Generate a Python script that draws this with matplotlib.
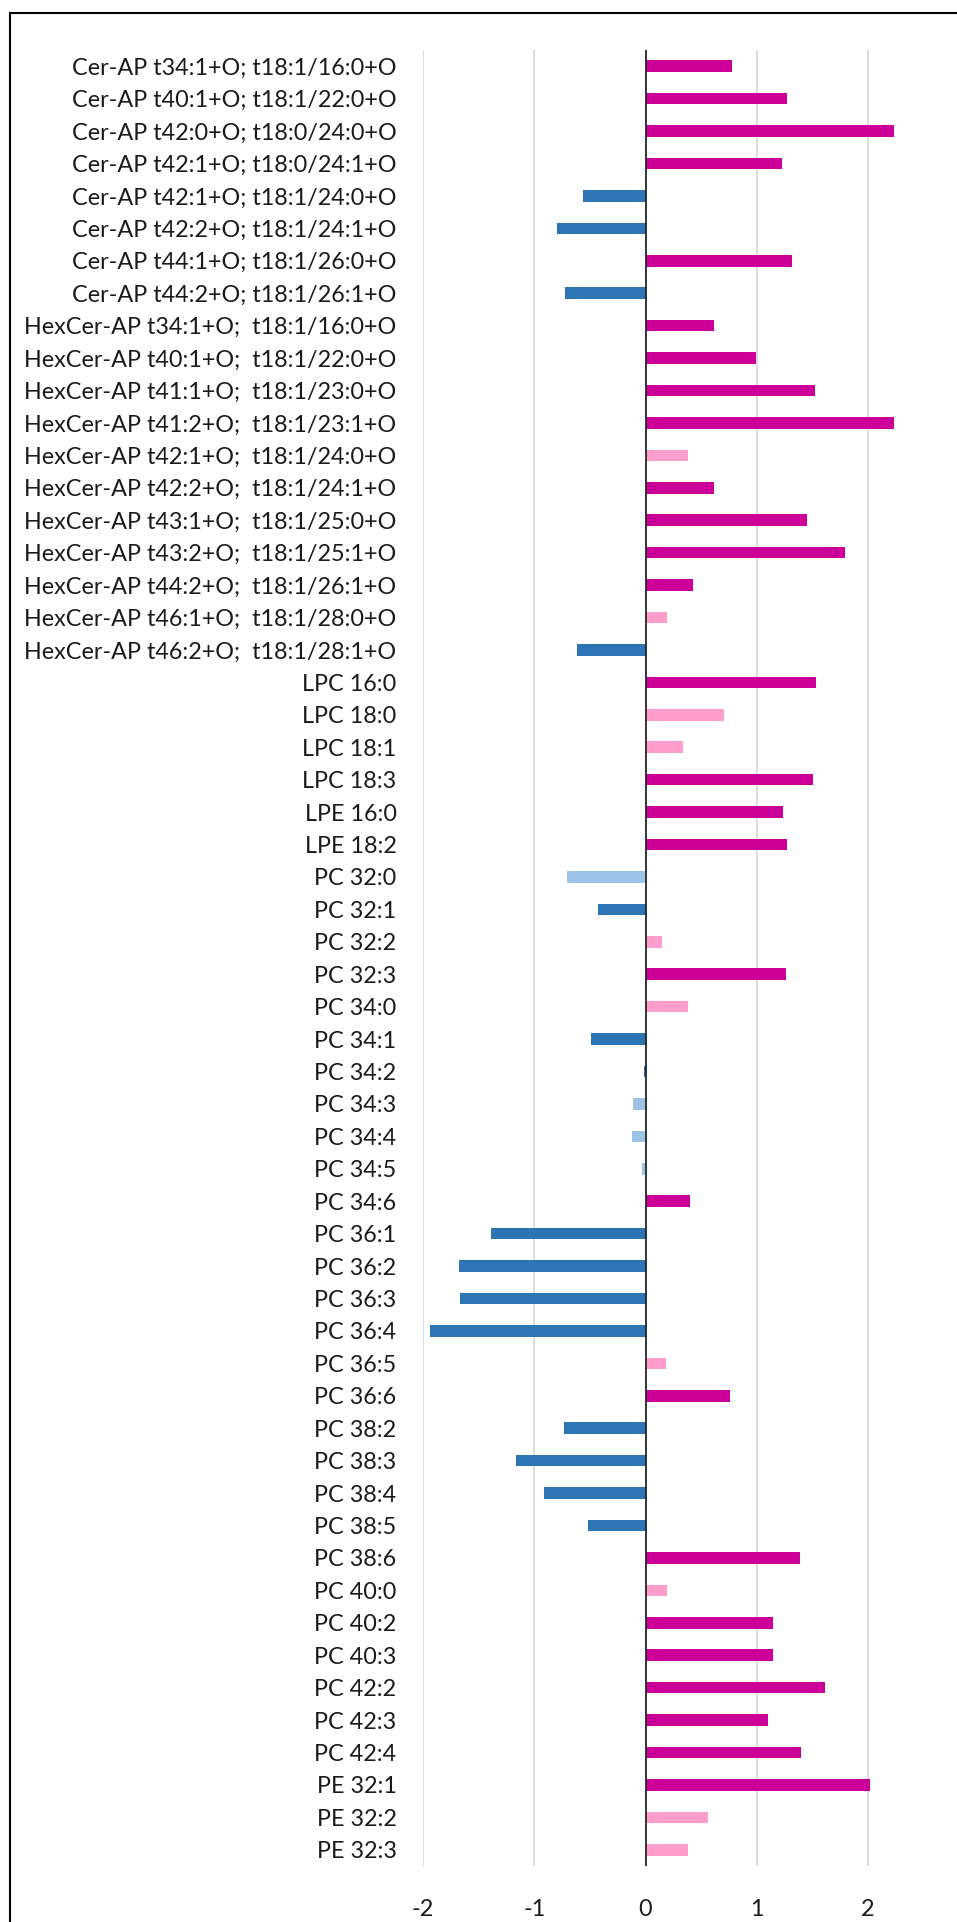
import numpy as np
import matplotlib.pyplot as plt
from matplotlib.lines import Line2D

plt.rcParams['font.family'] = ['Lato', 'DejaVu Sans']

lipids = ['Cer-AP t34:1+O; t18:1/16:0+O',
          'Cer-AP t40:1+O; t18:1/22:0+O',
          'Cer-AP t42:0+O; t18:0/24:0+O',
          'Cer-AP t42:1+O; t18:0/24:1+O',
          'Cer-AP t42:1+O; t18:1/24:0+O',
          'Cer-AP t42:2+O; t18:1/24:1+O',
          'Cer-AP t44:1+O; t18:1/26:0+O',
          'Cer-AP t44:2+O; t18:1/26:1+O',
          'HexCer-AP t34:1+O;  t18:1/16:0+O',
          'HexCer-AP t40:1+O;  t18:1/22:0+O',
          'HexCer-AP t41:1+O;  t18:1/23:0+O',
          'HexCer-AP t41:2+O;  t18:1/23:1+O',
          'HexCer-AP t42:1+O;  t18:1/24:0+O',
          'HexCer-AP t42:2+O;  t18:1/24:1+O',
          'HexCer-AP t43:1+O;  t18:1/25:0+O',
          'HexCer-AP t43:2+O;  t18:1/25:1+O',
          'HexCer-AP t44:2+O;  t18:1/26:1+O',
          'HexCer-AP t46:1+O;  t18:1/28:0+O',
          'HexCer-AP t46:2+O;  t18:1/28:1+O',
          'LPC 16:0', 'LPC 18:0', 'LPC 18:1', 'LPC 18:3',
          'LPE 16:0', 'LPE 18:2',
          'PC 32:0', 'PC 32:1', 'PC 32:2', 'PC 32:3',
          'PC 34:0', 'PC 34:1', 'PC 34:2', 'PC 34:3', 'PC 34:4', 'PC 34:5', 'PC 34:6',
          'PC 36:1', 'PC 36:2', 'PC 36:3', 'PC 36:4', 'PC 36:5', 'PC 36:6',
          'PC 38:2', 'PC 38:3', 'PC 38:4', 'PC 38:5', 'PC 38:6',
          'PC 40:0', 'PC 40:2', 'PC 40:3',
          'PC 42:2', 'PC 42:3', 'PC 42:4',
          'PE 32:1', 'PE 32:2', 'PE 32:3']

log2fc = [0.78, 1.27, 2.23, 1.23, -0.56, -0.80, 1.32, -0.72,
          0.62, 0.99, 1.52, 2.23, 0.38, 0.62, 1.45, 1.79, 0.43, 0.19, -0.62,
          1.53, 0.71, 0.34, 1.51,
          1.24, 1.27,
          -0.71, -0.43, 0.15, 1.26,
          0.38, -0.49, -0.01, -0.11, -0.12, -0.03, 0.40,
          -1.39, -1.68, -1.67, -1.94, 0.18, 0.76,
          -0.73, -1.16, -0.91, -0.52, 1.39,
          0.19, 1.15, 1.15,
          1.61, 1.10, 1.40,
          2.02, 0.56, 0.38]

# 1 = significant, 0 = not significant
significant = [1, 1, 1, 1, 1, 1, 1, 1,
               1, 1, 1, 1, 0, 1, 1, 1, 1, 0, 1,
               1, 0, 0, 1,
               1, 1,
               0, 1, 0, 1,
               0, 1, 1, 0, 0, 0, 1,
               1, 1, 1, 1, 0, 1,
               1, 1, 1, 1, 1,
               0, 1, 1,
               1, 1, 1,
               1, 0, 0]

x_ticks = [-2, -1, 0, 1, 2]


def bar_color(v, s):
    if v >= 0:
        return '#CC0099' if s else '#FF9ECC'
    return '#2E75B6' if s else '#9DC3E6'


colors = [bar_color(v, s) for v, s in zip(log2fc, significant)]

W, H = 957, 1922
fig = plt.figure(figsize=(W / 100, H / 100), dpi=100)

# plot area in pixels: x=-2 at 423, x=2 at 868; top 50, bottom 1866
left, right, top, bottom = 423, 957, 50, 1866
ax = fig.add_axes([left / W, 1 - bottom / H, (right - left) / W, (bottom - top) / H])

y = np.arange(len(lipids))
ax.barh(y, log2fc, height=0.36, color=colors, zorder=3)

px_per_unit = (868 - 423) / 4
ax.set_xlim(-2, 2 + (right - 868) / px_per_unit)
ax.set_ylim(len(lipids) - 0.5, -0.5)
ax.set_xticks(x_ticks)
ax.set_xticklabels([str(t) for t in x_ticks])
ax.set_yticks(y)
ax.set_yticklabels(lipids)

ax.grid(axis='x', color='#D9D9D9', linewidth=1.3, zorder=0)
ax.axvline(0, color='#1a1a1a', linewidth=1.2, zorder=4)
for s in ax.spines.values():
    s.set_visible(False)
ax.tick_params(axis='both', length=0, labelsize=16.8, colors='#1a1a1a')
ax.tick_params(axis='y', pad=19)
ax.tick_params(axis='x', pad=24)

# chart border (only left and top edges are inside the picture)
fig.add_artist(Line2D([9.5 / W, 9.5 / W], [0, 1 - 12.7 / H], transform=fig.transFigure,
                      color='black', linewidth=1.5))
fig.add_artist(Line2D([9.5 / W, 1], [1 - 12.7 / H, 1 - 12.7 / H], transform=fig.transFigure,
                      color='black', linewidth=1.5))

fig.savefig('out.png', dpi=100)
